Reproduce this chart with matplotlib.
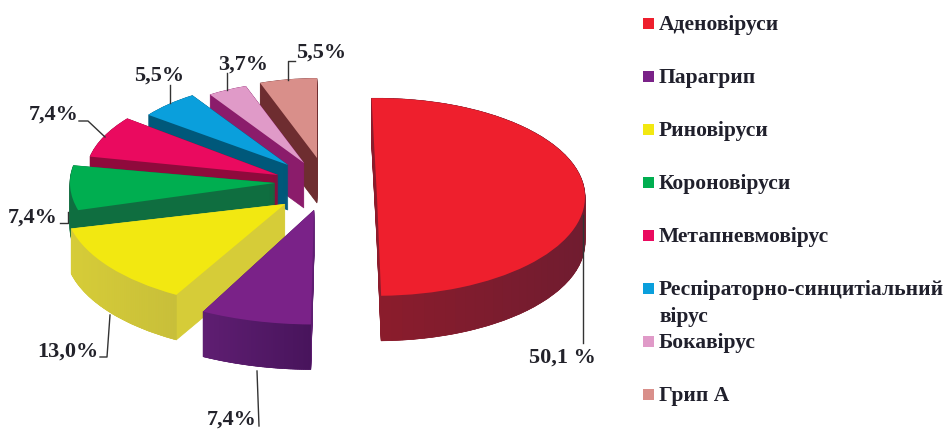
import numpy as np
import matplotlib
matplotlib.use("Agg")
import matplotlib.pyplot as plt
from matplotlib.colors import to_rgb
from matplotlib.patches import Rectangle

# структура вірусів, %
viruses = ['Аденовіруси', 'Парагрип', 'Риновіруси', 'Короновіруси', 'Метапневмовірус',
           'Респіраторно-синцитіальний\nвірус', 'Бокавірус', 'Грип А']
shares = [50.1, 7.4, 13.0, 7.4, 7.4, 5.5, 3.7, 5.5]
share_labels = ['50,1 %', '7,4%', '13,0%', '7,4%', '7,4%', '5,5%', '3,7%', '5,5%']

top_colors = ['#ee1f2d', '#7a2288', '#f2e811', '#00ae50', '#ea0a5f', '#0a9fdc', '#e09ac8', '#d98f8a']
wall_left = ['#8c1c2c', '#5f1e72', '#d6cc38', '#0f6e40', '#8f0a3c', '#00587a', '#8b1c6b', '#6e2d30']
wall_right = ['#701c30', '#48145c', '#c8bf3a', '#0f6e40', '#8f0a3c', '#00587a', '#8b1c6b', '#6e2d30']

# вершини секторів, радіуси (перспектива: ближчі сектори більші) і поправка кута
apex = [(377, 197), (314, 210), (285, 204), (275, 183), (278, 175), (288, 165), (304, 163), (317, 158)]
radius = [208, 241, 220, 205, 192, 175, 172, 168]
turn = [1.5, -0.4, -2.6, 0.0, -1.2, 0.0, 0.0, 0.0]
# підписи: позиція тексту і лінія-виноска
label_pos = [(562, 358), (232, 420), (68, 352), (33, 218), (54, 115), (159, 76), (243, 65), (321, 53)]
leaders = [[(583, 215), (583, 343)],
           [(257, 371), (259, 426)],
           [(110, 315), (107, 357), (100, 357)],
           [(68, 212), (68, 223), (60, 223)],
           [(105, 137), (88, 121), (79, 121)],
           [(170, 103), (170, 85)],
           [(227, 90), (227, 73)],
           [(288, 80), (288, 61), (295, 61)]]

SQUASH = 0.475
HEIGHT = 45 / SQUASH
W, H = 944, 432

plt.rcParams['font.family'] = ['Liberation Serif']
fig = plt.figure(figsize=(W / 100, H / 100), dpi=100, facecolor='white')
ax = fig.add_axes([0, 0, 1, 1])


def wall(start, sweep, cx, cy, r, c1, c2):
    # зовнішня стінка сектора смужками з градієнтом по x
    angles = np.radians(np.linspace(start - sweep, start, 61))
    xs = cx + r * np.cos(angles)
    ys = cy + r * np.sin(angles)
    x0, x1 = xs.min(), xs.max()
    c1, c2 = np.array(to_rgb(c1)), np.array(to_rgb(c2))
    for i in range(60):
        t = ((xs[i] + xs[i + 1]) / 2 - x0) / max(x1 - x0, 1)
        ax.fill([xs[i], xs[i + 1], xs[i + 1], xs[i]],
                [ys[i], ys[i + 1], ys[i + 1] - HEIGHT, ys[i] - HEIGHT],
                color=c1 + (c2 - c1) * t, lw=0.4)


# кути рахуємо за годинниковою стрілкою від верху
starts = 90 - np.cumsum([0] + shares[:-1]) * 3.6 + np.array(turn)

# малюємо від дальніх секторів до ближніх, червоний окремо в кінці
for i in [7, 6, 5, 4, 3, 2, 1, 0]:
    cx = apex[i][0]
    cy = (H - apex[i][1]) / SQUASH
    for dy in np.linspace(HEIGHT, 0.5, 46):
        ax.pie([shares[i] / 100], startangle=starts[i], counterclock=False, normalize=False,
               center=(cx, cy - dy), radius=radius[i], colors=[wall_left[i]],
               wedgeprops={'linewidth': 0.5, 'edgecolor': wall_left[i]})
    if wall_left[i] != wall_right[i]:
        wall(starts[i], shares[i] * 3.6, cx, cy, radius[i], wall_left[i], wall_right[i])
    ax.pie([shares[i] / 100], startangle=starts[i], counterclock=False, normalize=False,
           center=(cx, cy), radius=radius[i], colors=[top_colors[i]],
           wedgeprops={'linewidth': 0})

ax.set_xlim(0, W)
ax.set_ylim(0, H / SQUASH)
ax.set_aspect('auto')

# шар для підписів у координатах зображення
over = fig.add_axes([0, 0, 1, 1], facecolor='none')
over.set_xlim(0, W)
over.set_ylim(H, 0)
over.axis('off')

for text, pos, line in zip(share_labels, label_pos, leaders):
    over.text(pos[0], pos[1], text, fontsize=16, fontweight='bold', color='#22222a',
              ha='center', va='center')
    xs, ys = zip(*line)
    over.plot(xs, ys, color='#333333', lw=1)

# легенда
for i, name in enumerate(viruses):
    y = 23 + 53 * i
    over.add_patch(Rectangle((643, y - 5.5), 11, 11, color=top_colors[i], lw=0))
    for j, part in enumerate(name.split('\n')):
        over.text(659, y + 7 + 27 * j, part, fontsize=15.5, fontweight='bold', color='#20202c',
                  ha='left', va='baseline')

fig.savefig('out.png', dpi=100)
